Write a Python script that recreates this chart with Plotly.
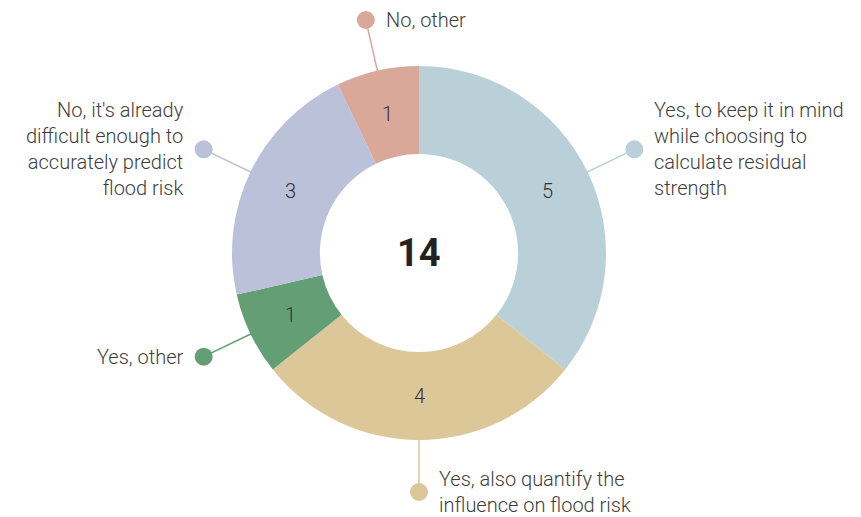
import math
import plotly.graph_objects as go

# ---- data ----
categories = [
    "Yes, to keep it in mind while choosing to calculate residual strength",
    "Yes, also quantify the influence on flood risk",
    "Yes, other",
    "No, it's already difficult enough to accurately predict flood risk",
    "No, other",
]
display_labels = [
    "Yes, to keep it in mind<br>while choosing to<br>calculate residual<br>strength",
    "Yes, also quantify the<br>influence on flood risk",
    "Yes, other",
    "No, it's already<br>difficult enough to<br>accurately predict<br>flood risk",
    "No, other",
]
values = [5, 4, 1, 3, 1]
colors = ["#b9d0d9", "#dbc798", "#649e75", "#bac1d8", "#d9a899"]

# ---- layout constants ----
W, H = 861, 517
CX, CY = 419, 253
R_OUT = 187
HOLE = 0.53
R_IN = R_OUT * HOLE
R_DOT = 239
DOT_R = 9
TEXT_GAP = 18
FONT = "Roboto"


def px(x):
    return x / W


def py(y):
    return 1 - y / H


fig = go.Figure(
    go.Pie(
        values=values,
        labels=categories,
        marker=dict(colors=colors, line=dict(color="white", width=0)),
        hole=HOLE,
        sort=False,
        direction="clockwise",
        rotation=0,
        textinfo="none",
        hoverinfo="label+value",
        showlegend=False,
        domain=dict(
            x=[px(CX - R_OUT), px(CX + R_OUT)],
            y=[py(CY + R_OUT), py(CY - R_OUT)],
        ),
    )
)

total = sum(values)
annotations = []
shapes = []
cum = 0
for val, lab, col in zip(values, display_labels, colors):
    mid = (cum + val / 2) / total * 2 * math.pi
    cum += val
    s, c = math.sin(mid), math.cos(mid)
    # value label inside ring
    rm = (R_OUT + R_IN) / 2
    annotations.append(dict(
        x=px(CX + rm * s), y=py(CY - rm * c), xref="paper", yref="paper",
        text=str(val), showarrow=False, xanchor="center", yanchor="middle",
        font=dict(family=FONT, size=20, color="#333333", weight=300),
    ))
    # connector line
    dx, dy = CX + R_DOT * s, CY - R_DOT * c
    shapes.append(dict(
        type="line", xref="paper", yref="paper",
        x0=px(CX + (R_OUT - 2) * s), y0=py(CY - (R_OUT - 2) * c),
        x1=px(dx), y1=py(dy),
        line=dict(color=col, width=1.5), layer="above",
    ))
    shapes.append(dict(
        type="circle", xref="paper", yref="paper",
        x0=px(dx - DOT_R), x1=px(dx + DOT_R),
        y0=py(dy + DOT_R), y1=py(dy - DOT_R),
        fillcolor=col, line=dict(width=0), layer="above",
    ))
    right = s > -0.5
    annotations.append(dict(
        x=px(dx + TEXT_GAP) if right else px(dx - TEXT_GAP), y=py(dy),
        xref="paper", yref="paper", text=lab, showarrow=False,
        xanchor="left" if right else "right", yanchor="middle",
        align="left" if right else "right",
        font=dict(family=FONT, size=20, color="#3d3d3d", weight=300),
    ))

annotations.append(dict(
    x=px(CX), y=py(CY), xref="paper", yref="paper", text=str(total),
    showarrow=False, xanchor="center", yanchor="middle",
    font=dict(family=FONT, size=38, color="#222222", weight=700),
))

fig.update_layout(
    width=W, height=H,
    margin=dict(l=0, r=0, t=0, b=0),
    paper_bgcolor="white", plot_bgcolor="white",
    annotations=annotations, shapes=shapes,
)

fig.write_html(
    "out.html",
    config={"displayModeBar": False},
    post_script="document.body.style.margin='0';document.body.style.overflow='hidden';",
)
